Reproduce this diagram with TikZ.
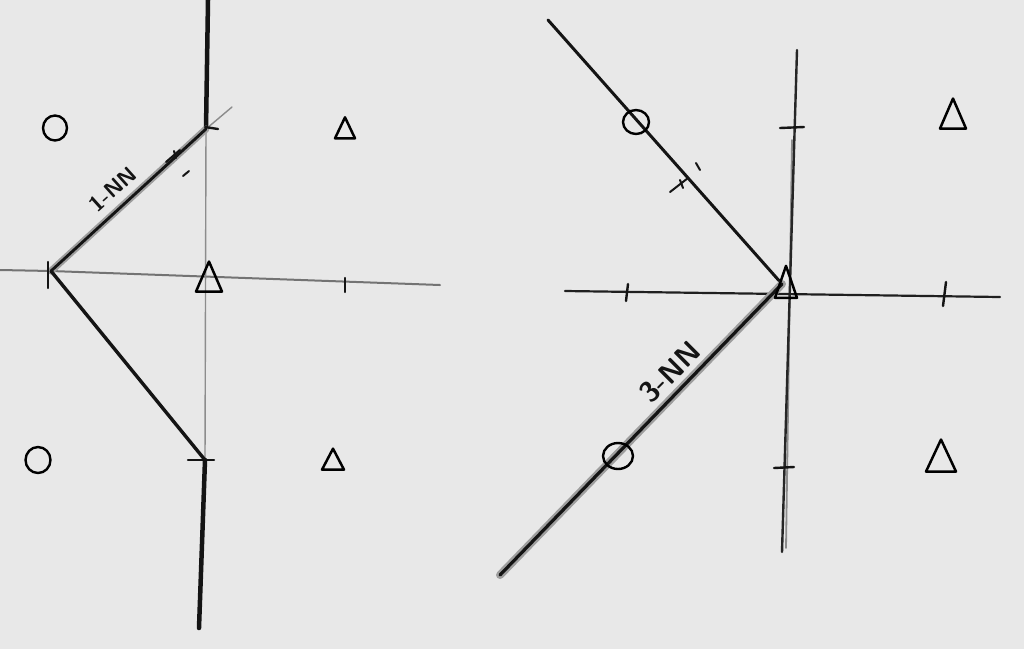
\documentclass[tikz,border=0pt]{standalone}
\usetikzlibrary{shapes.geometric}
\begin{document}
\begin{tikzpicture}[x=1pt,y=-1pt,
  ink/.style={draw=black!92, line cap=round, line join=round},
  faint/.style={draw=black!45, line width=1.4pt, line cap=round},
  heavyaxis/.style={ink, line width=4.5pt},
  thinaxis/.style={ink, draw=black!70, line width=2pt},
  smudge/.style={draw=black!38, line width=7pt, line cap=round},
  tickmark/.style={ink, line width=2.4pt},
  circmark/.style={ellipse, draw=black, line width=2.4pt, inner sep=0pt},
  trimark/.style={isosceles triangle, isosceles triangle stretches, shape border rotate=90,
                  draw=black, line width=2.5pt, inner sep=0pt, line join=round},
  nnlabel/.style={font=\sffamily\bfseries, text=black!92, inner sep=0pt}]
\useasboundingbox (0,0) rectangle (1024,649);
\fill[black!9] (0,0) rectangle (1024,649);

% ---------------- left figure ----------------
\coordinate (L) at (51,271);
\coordinate (LT) at (206,129);
\coordinate (LB) at (205,460);
\coordinate (Ltop) at (208,0);
\coordinate (Lbot) at (199,628);
\coordinate (Lhx0) at (0,270);
\coordinate (Lhx1) at (440,285);
\coordinate (Lext) at (232,107);

\draw[thinaxis, draw=black!55] (Lhx0) -- (L) -- (Lhx1);
\draw[faint] (LT) -- (LB);
\draw[heavyaxis] (Ltop) -- (LT);
\draw[heavyaxis] (LB) -- (Lbot);
\draw[faint] (LT) -- (Lext);
\draw[smudge] (L) -- (LT);
\draw[ink, line width=2.8pt] (L) -- (LT);
\draw[ink, line width=3.4pt] (L) -- (LB);

\draw[tickmark] (205,127) -- (218,129);
\draw[tickmark] (188,460) -- (214,460);
\draw[tickmark] (345,278) -- (345,292);
\draw[tickmark] (48,262) -- (48,288);
\draw[tickmark, line width=2pt] (166,162) -- (180,150);
\draw[tickmark, line width=2pt] (174,151) -- (176,158);
\draw[tickmark, line width=2pt] (183,176) -- (189,171);

\node[nnlabel, rotate=42, font=\sffamily\bfseries\fontsize{22}{22}\selectfont] (lab1) at (113,189) {1-NN};

\node[circmark, minimum width=24pt, minimum height=25pt] (lc1) at (55,128) {};
\node[circmark, minimum width=25pt, minimum height=26pt] (lc2) at (38,460) {};
\node[trimark, minimum width=26pt, minimum height=30pt] (lt0) at (209,283) {};
\node[trimark, minimum width=20pt, minimum height=21pt] (lt1) at (345,132) {};
\node[trimark, minimum width=22pt, minimum height=21pt] (lt2) at (333,463) {};

% ---------------- right figure ----------------
\coordinate (R) at (782,284);
\coordinate (Rtop) at (797,50);
\coordinate (Rbot) at (782,552);
\coordinate (Rhx0) at (565,291);
\coordinate (Rhx1) at (1000,297);
\coordinate (RUL) at (548,20);
\coordinate (RLL) at (500,575);

\draw[faint, line width=1.8pt] (792,140) -- (786,548);
\draw[thinaxis, draw=black!85, line width=2.4pt] (Rtop) -- (Rbot);
\draw[thinaxis, draw=black!88, line width=2.2pt] (Rhx0) -- (Rhx1);
\draw[ink, line width=3pt] (RUL) -- (R);
\draw[smudge, line width=8pt] (R) -- (RLL);
\draw[ink, line width=3.2pt] (R) -- (RLL);

\draw[tickmark] (780,128) -- (804,127);
\draw[tickmark] (774,468) -- (794,467);
\draw[tickmark] (628,284) -- (626,301);
\draw[tickmark] (946,282) -- (943,306);
\draw[tickmark, line width=2pt] (670,192) -- (688,178);
\draw[tickmark, line width=2pt] (680,180) -- (683,188);
\draw[tickmark, line width=2pt] (696,163) -- (700,170);

\node[nnlabel, rotate=45, font=\sffamily\bfseries\fontsize{29}{29}\selectfont] (lab3) at (670,372) {3-NN};

\node[circmark, minimum width=26pt, minimum height=24pt] (rc1) at (636,122) {};
\node[circmark, minimum width=30pt, minimum height=26pt] (rc2) at (618,456) {};
\node[trimark, minimum width=22pt, minimum height=32pt] (rt0) at (786,290) {};
\node[trimark, minimum width=26pt, minimum height=30pt] (rt1) at (953,120) {};
\node[trimark, minimum width=30pt, minimum height=32pt] (rt2) at (941,462) {};
\end{tikzpicture}
\end{document}
